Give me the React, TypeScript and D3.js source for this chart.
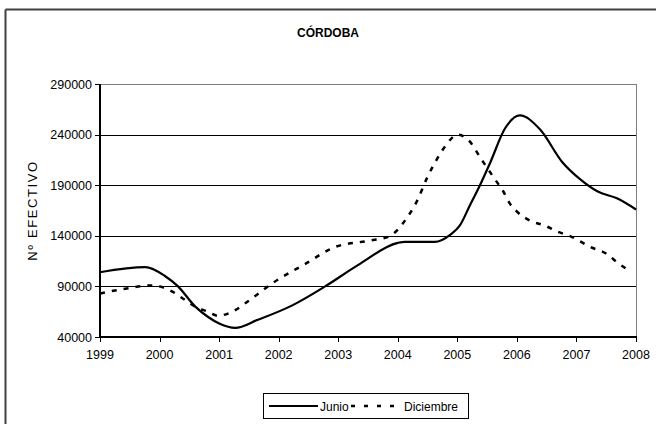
import React from "react";
import * as d3 from "d3";

const yTicks = [40000, 90000, 140000, 190000, 240000, 290000];
const xTicks = [1999, 2000, 2001, 2002, 2003, 2004, 2005, 2006, 2007, 2008];

const junioYears = [1999.0, 1999.76, 2000.09, 2000.31, 2000.6, 2000.81, 2001.01, 2001.27, 2001.65, 2002.22, 2002.78, 2003.33, 2004.0, 2004.12, 2004.62, 2004.88, 2005.04, 2005.21, 2005.38, 2005.55, 2005.8, 2006.05, 2006.39, 2006.76, 2007.06, 2007.35, 2007.68, 2008.0];
const junioValues = [104000, 109000, 100300, 90000, 70000, 60000, 53000, 49000, 57000, 71000, 90000, 111000, 133000, 134000, 134000, 141000, 150000, 170000, 190000, 212000, 246000, 259000, 245000, 213000, 196000, 184000, 177000, 166000];

const diciembreYears = [1999.0, 1999.45, 1999.87, 2000.21, 2000.39, 2000.6, 2000.81, 2000.98, 2001.22, 2001.48, 2001.89, 2002.44, 2002.95, 2003.5, 2003.84, 2004.0, 2004.12, 2004.32, 2004.49, 2004.66, 2004.79, 2005.01, 2005.18, 2005.41, 2005.63, 2005.77, 2005.88, 2006.0, 2006.22, 2006.47, 2006.69, 2006.92, 2007.23, 2007.51, 2007.68, 2007.87];
const diciembreValues = [83000, 88000, 91000, 85000, 78000, 70000, 65000, 61000, 65000, 75000, 93000, 112000, 129000, 135000, 139000, 146000, 155000, 174000, 197000, 216000, 228000, 240000, 235000, 215000, 196000, 184000, 172000, 164000, 155000, 150000, 144000, 139000, 129000, 122000, 114000, 106000];

const FONT = "'Liberation Sans', Arial, sans-serif";

export default function App() {
  const W = 656, H = 424;
  const left = 100, right = 636, top = 84, bottom = 337;
  const x = d3.scaleLinear().domain([1999, 2008]).range([left, right]);
  const y = d3.scaleLinear().domain([40000, 290000]).range([bottom, top]);
  const line = d3.line<[number, number]>()
    .x(d => x(d[0]))
    .y(d => y(d[1]))
    .curve(d3.curveMonotoneX);
  const jun = line(junioYears.map((t, i) => [t, junioValues[i]] as [number, number])) || "";
  const dic = line(diciembreYears.map((t, i) => [t, diciembreValues[i]] as [number, number])) || "";

  return (
    <svg width={W} height={H} style={{ position: "absolute", left: 0, top: 0, background: "#fff" }}>
      <rect x={0} y={0} width={W} height={H} fill="#fff" />
      {/* outer frame */}
      <line x1={5.5} y1={9.5} x2={5.5} y2={H} stroke="#404040" strokeWidth={2} />
      <line x1={5.5} y1={9.5} x2={W} y2={9.5} stroke="#404040" strokeWidth={2} />
      <text x={328} y={37} textAnchor="middle" fontFamily={FONT} fontSize={12} fontWeight="bold" fill="#000">CÓRDOBA</text>

      {/* gridlines */}
      {yTicks.slice(1, -1).map(v => (
        <line key={v} x1={left} x2={right} y1={Math.round(y(v)) + 0.5} y2={Math.round(y(v)) + 0.5} stroke="#000" strokeWidth={1} />
      ))}
      {/* plot top/right border */}
      <line x1={left} x2={right} y1={top + 0.5} y2={top + 0.5} stroke="#808080" strokeWidth={1} />
      <line x1={right + 0.5} x2={right + 0.5} y1={top} y2={bottom} stroke="#808080" strokeWidth={1} />

      {/* y axis */}
      <line x1={left} x2={left} y1={top} y2={bottom + 1} stroke="#000" strokeWidth={2} />
      {yTicks.map(v => (
        <g key={v}>
          <line x1={left - 5} x2={left} y1={Math.round(y(v)) + 0.5} y2={Math.round(y(v)) + 0.5} stroke="#000" strokeWidth={1} />
          <text x={92} y={y(v) + 4.5} textAnchor="end" fontFamily={FONT} fontSize={12.5} fill="#000">{v}</text>
        </g>
      ))}
      <text transform={`translate(37,${(top + bottom) / 2}) rotate(-90)`} textAnchor="middle" fontFamily={FONT} fontSize={13} letterSpacing={1.6} fill="#000">Nº EFECTIVO</text>

      {/* x axis */}
      <line x1={left - 1} x2={right + 1} y1={bottom} y2={bottom} stroke="#000" strokeWidth={2} />
      {xTicks.map(t => (
        <g key={t}>
          <line x1={Math.round(x(t)) + 0.5} x2={Math.round(x(t)) + 0.5} y1={bottom} y2={bottom + 5} stroke="#000" strokeWidth={1} />
          <text x={x(t)} y={359} textAnchor="middle" fontFamily={FONT} fontSize={12.5} fill="#000">{t}</text>
        </g>
      ))}

      {/* series */}
      <path d={dic} fill="none" stroke="#000" strokeWidth={2.5} strokeDasharray="5,7" />
      <path d={jun} fill="none" stroke="#000" strokeWidth={2.2} />

      {/* legend */}
      <rect x={263.5} y={393.5} width={205} height={25} fill="#fff" stroke="#000" strokeWidth={1} />
      <line x1={269} x2={318} y1={406} y2={406} stroke="#000" strokeWidth={2.2} />
      <text x={320} y={410.5} fontFamily={FONT} fontSize={12} fill="#000">Junio</text>
      <line x1={351} x2={402} y1={406} y2={406} stroke="#000" strokeWidth={2.5} strokeDasharray="4,9" />
      <text x={404} y={410.5} fontFamily={FONT} fontSize={12} fill="#000">Diciembre</text>
    </svg>
  );
}
